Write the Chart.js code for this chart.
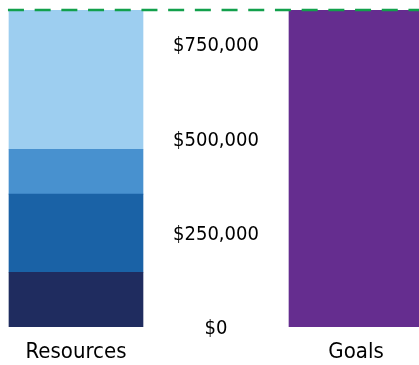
<!DOCTYPE html>
<html>
<head>
<meta charset="utf-8">
<script src="https://cdn.jsdelivr.net/npm/chart.js@4/dist/chart.umd.min.js"></script>
<style>
  html, body { margin: 0; padding: 0; background: #ffffff; }
  #wrap { width: 419px; height: 365px; }
</style>
</head>
<body>
<div id="wrap"><canvas id="c" width="419" height="365"></canvas></div>
<script>
// ---- data ----
const categories = ["Resources", "Goals"];
const resourceSegments = [145000, 207000, 119000, 369000]; // bottom -> top
const goalsValue = [840000];
const goalLine = 840000;
const yTicks = [0, 250000, 500000, 750000];

// ---- styles ----
const segmentColors = ["#1F2C5F", "#1A62A6", "#4891CF", "#9DCEF0"];
const goalsColor = "#652D8F";
const lineColor = "#12A04C";
const FONT = "'DejaVu Sans Condensed', 'DejaVu Sans', sans-serif";

// y scale whose tick labels are centred on its axis position and which reserves no layout space
class CenterYScale extends Chart.LinearScale {
  _getYAxisLabelAlignment(tl) { return { textAlign: 'center', x: 0 }; }
  getPadding() { return { left: 0, right: 0, top: 0, bottom: 0 }; }
}
CenterYScale.id = 'centerY';
CenterYScale.defaults = Chart.LinearScale.defaults;
Chart.register(CenterYScale);

const xMin = -0.2714, xMax = 1.225;

const datasets = resourceSegments.map((v, i) => ({
  type: 'bar',
  label: 'Resources ' + (i + 1),
  data: [{ x: 0, y: v }],
  backgroundColor: segmentColors[i],
  borderWidth: 0,
  barThickness: 134,
  stack: 's',
  order: 1
}));
datasets.push({
  type: 'bar',
  label: 'Goals',
  data: [{ x: 1, y: goalsValue[0] }],
  backgroundColor: goalsColor,
  borderWidth: 0,
  barThickness: 134,
  stack: 's',
  order: 1
});
datasets.push({
  type: 'line',
  label: 'Target',
  data: [{ x: -0.243, y: goalLine }, { x: xMax, y: goalLine }],
  borderColor: lineColor,
  borderWidth: 2.5,
  borderDash: [16, 10.7],
  pointRadius: 0,
  fill: false,
  stack: 'line',
  order: 0,
  clip: false
});

new Chart(document.getElementById('c'), {
  type: 'bar',
  data: { datasets },
  options: {
    responsive: false,
    animation: false,
    layout: { padding: { top: 10, left: 0, right: 0, bottom: 0 } },
    plugins: { legend: { display: false }, tooltip: { enabled: false } },
    scales: {
      x: {
        type: 'linear',
        min: xMin,
        max: xMax,
        offset: false,
        stacked: true,
        grid: { display: false, drawTicks: false, offset: false },
        border: { display: false },
        afterFit: (axis) => { axis.height = 38; },
        afterBuildTicks: (axis) => { axis.ticks = categories.map((c, i) => ({ value: i })); },
        ticks: {
          padding: 11.6,
          color: '#000',
          font: { family: FONT, size: 22 },
          callback: (v) => categories[v] !== undefined ? categories[v] : ''
        }
      },
      y: {
        type: 'centerY',
        position: { x: 0.5 },
        min: 0,
        max: 840000,
        stacked: true,
        grid: { display: false, drawTicks: false },
        border: { display: false },
        afterFit: (axis) => { axis.width = 0; },
        afterBuildTicks: (axis) => { axis.ticks = yTicks.map(v => ({ value: v })); },
        ticks: {
          padding: 0,
          labelOffset: 2,
          color: '#000',
          font: { family: FONT, size: 20, lineHeight: 1 },
          callback: (v) => '$' + Number(v).toLocaleString('en-US')
        }
      }
    }
  }
});
</script>
</body>
</html>
